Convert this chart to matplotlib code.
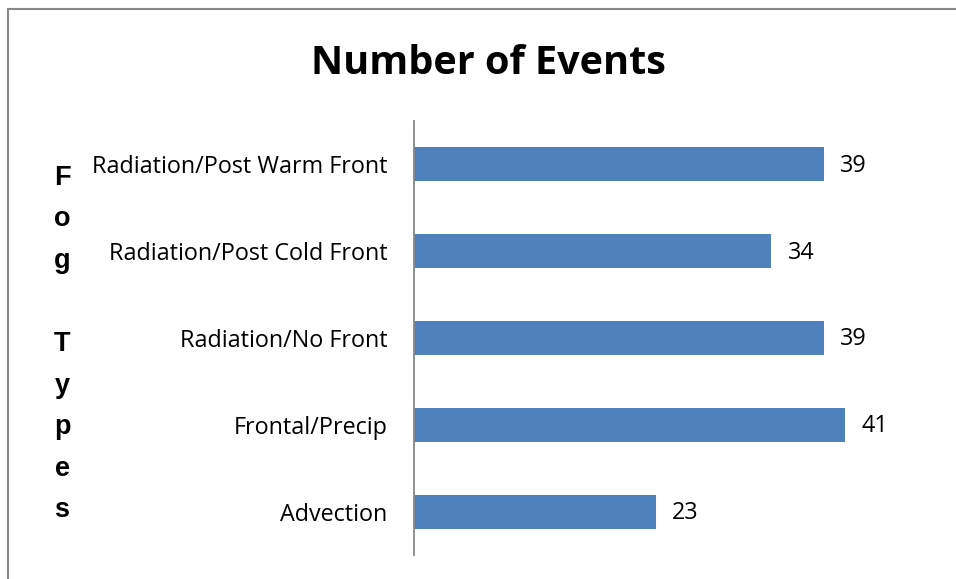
"""Horizontal bar chart: number of events per fog type."""
import matplotlib
matplotlib.use("Agg")
import matplotlib.pyplot as plt
from matplotlib.patches import Rectangle

categories = ["Advection", "Frontal/Precip", "Radiation/No Front",
              "Radiation/Post Cold Front", "Radiation/Post Warm Front"]
events = [23, 41, 39, 34, 39]

BAR = "#4F81BD"
W, H = 956, 579
FONT = "Open Sans"

fig = plt.figure(figsize=(W / 100, H / 100), dpi=100)
ax = fig.add_axes([414 / W, 1 - 555 / H, (939 - 414) / W, (555 - 121) / H])

ypos = range(len(categories))
bars = ax.barh(ypos, events, height=0.39, color=BAR)
ax.set_xlim(0, 50)
ax.set_ylim(-0.5, len(categories) - 0.5)
ax.set_yticks(list(ypos))
ax.set_yticklabels(categories, fontfamily=FONT, fontsize=16.8)
ax.tick_params(axis="y", length=0, pad=19)
ax.set_xticks([])
for s in ("top", "right", "bottom"):
    ax.spines[s].set_visible(False)
ax.spines["left"].set_color("#888888")
ax.spines["left"].set_linewidth(1.3)

for b, v in zip(bars, events):
    ax.annotate(str(v), (b.get_width(), b.get_y() + b.get_height() / 2),
                xytext=(12, -1), textcoords="offset points", va="center",
                ha="left", fontfamily=FONT, fontsize=16.8)

fig.text(488 / W, 1 - 64 / H, "Number of Events", ha="center", va="center",
         fontfamily=FONT, fontweight="bold", fontsize=28.5)

ylab = "\n".join(["F", "o", "g", "", "T", "y", "p", "e", "s"])
fig.text(62 / W, 1 - 344 / H, ylab, ha="center", va="center",
         fontfamily="Liberation Sans", fontweight="bold", fontsize=19.5,
         linespacing=1.78)

# chart frame (only left/top edges fall inside the image)
fig.patches.append(Rectangle((8 / W, -0.2), 1.2, 1.2 - 9 / H,
                             transform=fig.transFigure, fill=False,
                             edgecolor="#888888", linewidth=1.5))

fig.savefig("out.png", dpi=100)
